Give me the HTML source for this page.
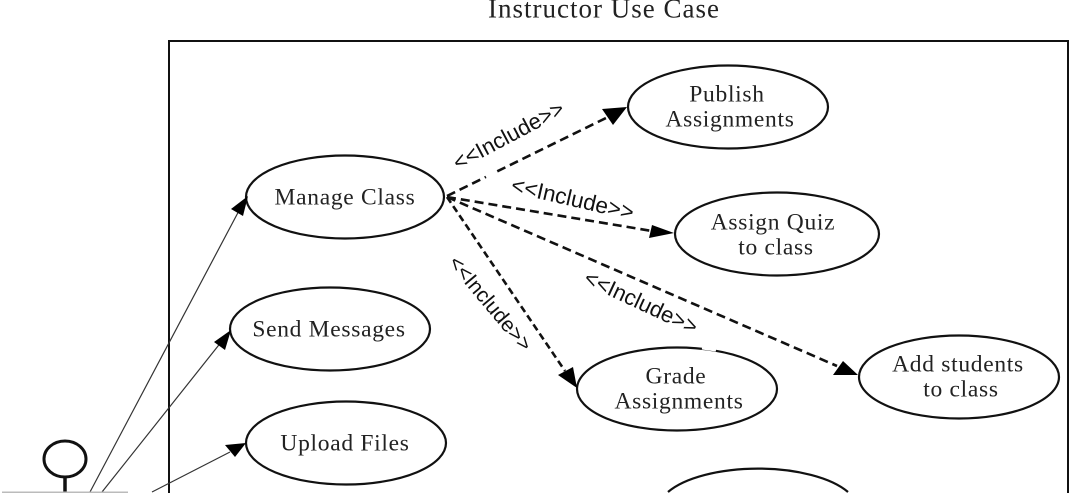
<!DOCTYPE html>
<html>
<head>
<meta charset="utf-8">
<style>
html,body{margin:0;padding:0;background:#fff;width:1073px;height:493px;overflow:hidden}
svg{display:block}
.s{font-family:"Liberation Serif",serif;font-size:23.5px;fill:#222;text-anchor:middle;letter-spacing:.7px}
.i{font-family:"Liberation Sans",sans-serif;font-size:22px;fill:#111;text-anchor:middle}
.e{fill:#fff;stroke:#111;stroke-width:2.2}
.d{fill:none;stroke:#111;stroke-width:2.6;stroke-dasharray:9 5}
.l{stroke:#333;stroke-width:1.2;fill:none}
.a{fill:#000}
</style>
</head>
<body>
<svg width="1073" height="493" viewBox="0 0 1073 493" xmlns="http://www.w3.org/2000/svg">
<rect width="1073" height="493" fill="#fff"/>
<text class="s" x="604" y="17.5" style="font-size:27px;letter-spacing:1px">Instructor Use Case</text>
<path d="M169 493V41H1068V493" fill="none" stroke="#111" stroke-width="2"/>

<ellipse class="e" cx="345" cy="197" rx="99" ry="41.5"/>
<ellipse class="e" cx="330" cy="329" rx="100" ry="41.5"/>
<ellipse class="e" cx="346" cy="443" rx="100" ry="41.5"/>
<ellipse class="e" cx="728" cy="107" rx="100" ry="41.5"/>
<ellipse class="e" cx="777" cy="234" rx="102" ry="41.5"/>
<ellipse class="e" cx="677" cy="389" rx="100" ry="41.5"/>
<ellipse class="e" cx="959" cy="377" rx="100" ry="41.5"/>
<path class="e" d="M668 492A100 41.5 0 0 1 848 492" style="fill:none"/>
<path d="M702 348L716 350" stroke="#fff" stroke-width="3" fill="none"/>

<text class="s" x="345" y="204.5">Manage Class</text>
<text class="s" x="329" y="336.5">Send Messages</text>
<text class="s" x="345" y="450.5">Upload Files</text>
<text class="s" x="727" y="101.5">Publish</text>
<text class="s" x="730" y="126.5">Assignments</text>
<text class="s" x="773" y="229.5">Assign Quiz</text>
<text class="s" x="776" y="254.5">to class</text>
<text class="s" x="676" y="383.5">Grade</text>
<text class="s" x="679" y="408.5">Assignments</text>
<text class="s" x="958" y="371.5">Add students</text>
<text class="s" x="961" y="396.5">to class</text>

<path class="d" d="M447 196L608 117"/>
<path d="M486 177L496 172" stroke="#fff" stroke-width="4" fill="none"/>
<path class="a" d="M627 107L602 109L613 125Z"/>
<path class="d" d="M447 197L652 231"/>
<path class="a" d="M674 233L652 225L649 238Z"/>
<path class="d" d="M447 197L837 366"/>
<path class="a" d="M858 375L843 361L833 375Z"/>
<path class="d" d="M447 197L565 371" style="stroke-dasharray:7 4"/>
<path class="a" d="M577 388L573 367L558 375Z"/>

<text class="i" transform="translate(512 142) rotate(-28)">&lt;&lt;Include&gt;&gt;</text>
<text class="i" transform="translate(571 206) rotate(13)" style="font-size:22.5px">&lt;&lt;Include&gt;&gt;</text>
<text class="i" transform="translate(638 309) rotate(25)">&lt;&lt;Include&gt;&gt;</text>
<text class="i" transform="translate(485 308) rotate(50)" style="font-size:21px">&lt;&lt;Include&gt;&gt;</text>

<path class="l" d="M90 492L242 205"/>
<path class="a" d="M248 196L231 209L243 216Z"/>
<path class="l" d="M102 492L222 341"/>
<path class="a" d="M231 330L214 342L225 350Z"/>
<path class="l" d="M152 492L230 452"/>
<path class="a" d="M246 443L225 445L235 457Z"/>

<ellipse cx="65" cy="459" rx="21" ry="18" fill="#fff" stroke="#111" stroke-width="3"/>
<path d="M65 477V492" stroke="#111" stroke-width="3.5" fill="none"/>
<path d="M2 492.2H128" stroke="#bbb" stroke-width="1.5" fill="none"/>
</svg>
</body>
</html>
